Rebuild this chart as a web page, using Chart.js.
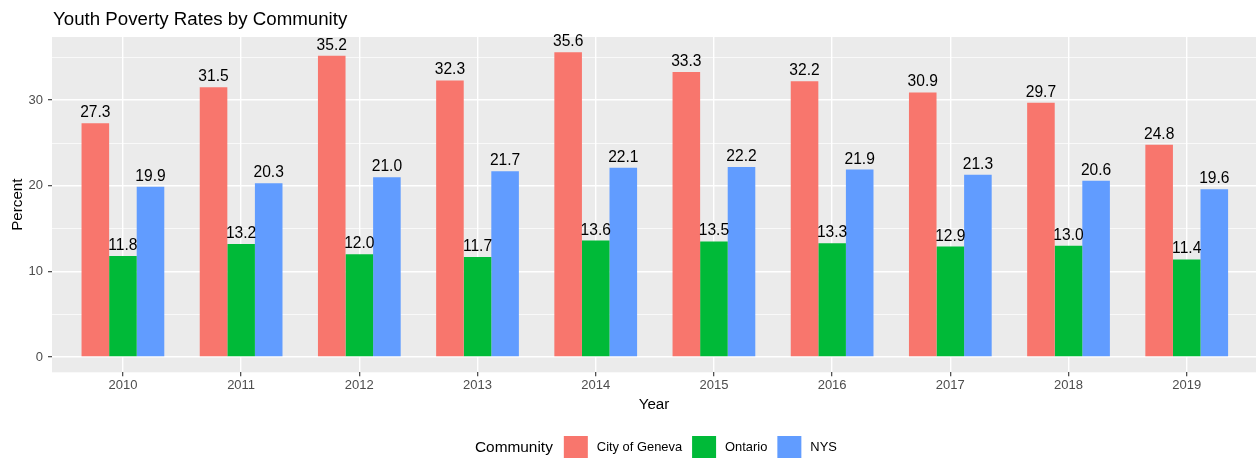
<!DOCTYPE html>
<html>
<head>
<meta charset="utf-8">
<script src="https://cdn.jsdelivr.net/npm/chart.js@4"></script>
<style>
  html, body { margin: 0; padding: 0; background: #fff; }
  #wrap { width: 1256px; height: 458px; position: relative; }
</style>
</head>
<body>
<div id="wrap"><canvas id="myChart"></canvas></div>
<script>
// data
const years = [2010, 2011, 2012, 2013, 2014, 2015, 2016, 2017, 2018, 2019]
const geneva = [27.3, 31.5, 35.2, 32.3, 35.6, 33.3, 32.2, 30.9, 29.7, 24.8]
const ontario = [11.8, 13.2, 12.0, 11.7, 13.6, 13.5, 13.3, 12.9, 13.0, 11.4]
const nys = [19.9, 20.3, 21.0, 21.7, 22.1, 22.2, 21.9, 21.3, 20.6, 19.6]
const yTicks = [0, 5, 10, 15, 20, 25, 30, 35]

const seriesNames = ['City of Geneva', 'Ontario', 'NYS']
const seriesColors = ['#F8766D', '#00BA38', '#619CFF']

const FONT = '"Liberation Sans", Arial, Helvetica, sans-serif'

const toPoints = vals => years.map((y, i) => ({ x: y, y: vals[i] }))

// grey panel like ggplot
const panelBg = {
    id: 'panelBg',
    beforeDraw(chart) {
        const { ctx, chartArea: a } = chart
        ctx.save()
        ctx.fillStyle = '#EBEBEB'
        ctx.fillRect(a.left, a.top, a.right - a.left, a.bottom - a.top)
        ctx.restore()
    }
}

// value labels above the bars
const barLabels = {
    id: 'barLabels',
    afterDatasetsDraw(chart) {
        const ctx = chart.ctx
        ctx.save()
        ctx.font = '15.6px ' + FONT
        ctx.fillStyle = '#000'
        ctx.textAlign = 'center'
        ctx.textBaseline = 'alphabetic'
        chart.data.datasets.forEach((ds, d) => {
            chart.getDatasetMeta(d).data.forEach((bar, i) => {
                ctx.fillText(ds.data[i].y.toFixed(1), bar.x, bar.y - 6)
            })
        })
        ctx.restore()
    }
}

// title + ggplot style legend at the bottom
const titleLegend = {
    id: 'titleLegend',
    afterDraw(chart) {
        const ctx = chart.ctx
        ctx.save()
        ctx.fillStyle = '#000'
        ctx.textAlign = 'left'
        ctx.textBaseline = 'alphabetic'
        ctx.font = '18.7px ' + FONT
        ctx.fillText('Youth Poverty Rates by Community', chart.chartArea.left + 1, 25)

        const cy = 447
        let x = 475
        ctx.textBaseline = 'middle'
        ctx.font = '15.4px ' + FONT
        ctx.fillText('Community', x, cy + 1)
        x += ctx.measureText('Community').width + 11
        ctx.font = '12.9px ' + FONT
        chart.data.datasets.forEach(ds => {
            ctx.fillStyle = ds.backgroundColor
            ctx.fillRect(x, cy - 11, 24, 22)
            x += 24 + 9
            ctx.fillStyle = '#000'
            ctx.fillText(ds.label, x, cy)
            x += ctx.measureText(ds.label).width + 10
        })
        ctx.restore()
    }
}

const ctx = document.getElementById('myChart').getContext('2d')

const myChart = new Chart(ctx, {
    type: 'bar',
    data: {
        datasets: [
            { label: seriesNames[0], data: toPoints(geneva), backgroundColor: seriesColors[0] },
            { label: seriesNames[1], data: toPoints(ontario), backgroundColor: seriesColors[1] },
            { label: seriesNames[2], data: toPoints(nys), backgroundColor: seriesColors[2] }
        ]
    },
    options: {
        responsive: true,
        maintainAspectRatio: false,
        animation: false,
        layout: { padding: { top: 37, left: 0, right: 0, bottom: 40.7 } },
        datasets: {
            bar: { categoryPercentage: 0.7, barPercentage: 1.0, borderWidth: 0 }
        },
        plugins: {
            legend: { display: false },
            title: { display: false },
            tooltip: { enabled: false }
        },
        scales: {
            x: {
                type: 'linear',
                min: 2009.4,
                max: 2009.4 + 1204 / 118.2,
                offset: false,
                afterBuildTicks: s => { s.ticks = years.map(v => ({ value: v })) },
                afterFit: s => { s.height = 45 },
                grid: {
                    offset: false,
                    color: '#FFFFFF',
                    lineWidth: 1.4,
                    tickColor: '#333333',
                    tickWidth: 1.1,
                    tickLength: 4
                },
                border: { display: false },
                ticks: {
                    autoSkip: false,
                    maxRotation: 0,
                    padding: 1.5,
                    color: '#4D4D4D',
                    font: { family: FONT, size: 13 },
                    callback: v => String(v)
                },
                title: {
                    display: true,
                    text: 'Year',
                    color: '#000',
                    font: { family: FONT, size: 15.2 },
                    padding: { top: 0, bottom: 3 }
                }
            },
            y: {
                min: -1.78,
                max: 37.38,
                afterBuildTicks: s => { s.ticks = yTicks.map(v => ({ value: v })) },
                afterFit: s => { s.width = 52 },
                grid: {
                    color: '#FFFFFF',
                    lineWidth: c => (c.tick && c.tick.value % 10 === 0) ? 1.4 : 0.7,
                    tickColor: c => (c.tick && c.tick.value % 10 === 0) ? '#333333' : 'rgba(0,0,0,0)',
                    tickWidth: 1.1,
                    tickLength: 4
                },
                border: { display: false },
                ticks: {
                    padding: 5,
                    color: '#4D4D4D',
                    font: { family: FONT, size: 13 },
                    callback: v => (v % 10 === 0 ? String(v) : '')
                },
                title: {
                    display: true,
                    text: 'Percent',
                    color: '#000',
                    font: { family: FONT, size: 15.2 },
                    padding: { top: 8.5, bottom: 0 }
                }
            }
        }
    },
    plugins: [panelBg, barLabels, titleLegend]
})
</script>
</body>
</html>
